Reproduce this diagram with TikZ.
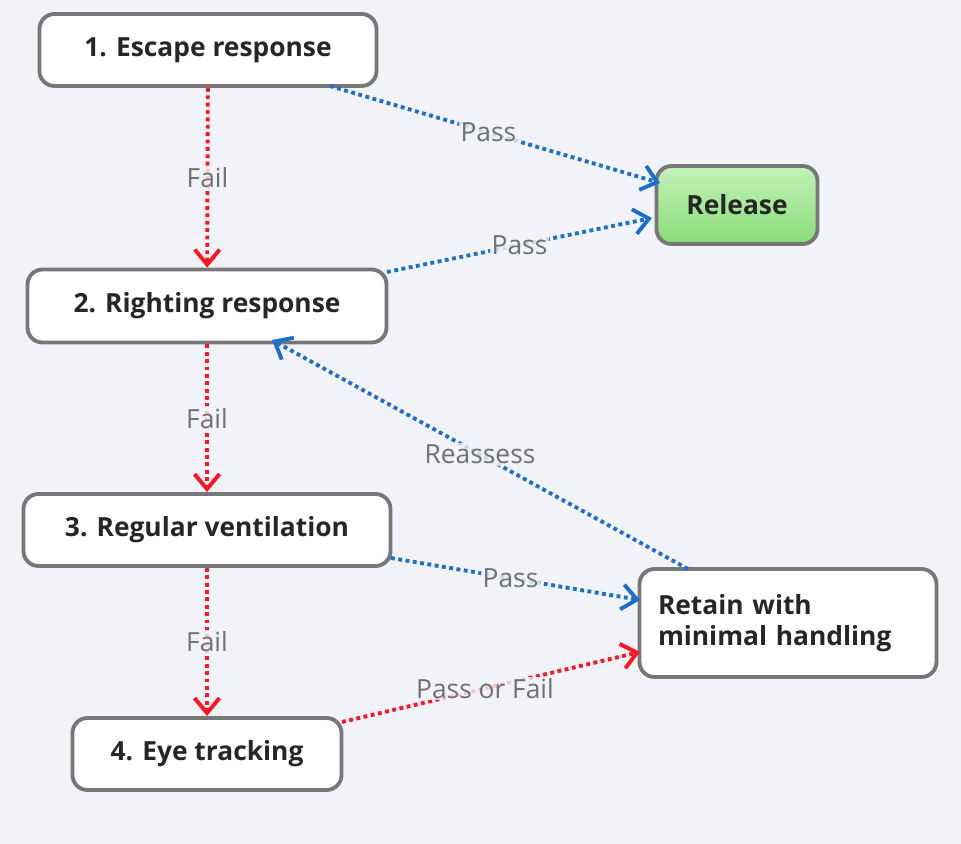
\documentclass[tikz,border=0pt]{standalone}
\usepackage{fontspec}
\setmainfont{Open Sans}
\usetikzlibrary{arrows.meta, positioning, shadings}
\definecolor{bgcol}{HTML}{F2F3F8}
\definecolor{boxline}{HTML}{777777}
\definecolor{failred}{HTML}{FF1424}
\definecolor{passblue}{HTML}{1C6FD0}
\definecolor{labelgray}{HTML}{707070}
\definecolor{greentop}{HTML}{C4F2B8}
\definecolor{greenbot}{HTML}{88DD78}

\begin{document}
\begin{tikzpicture}[
    x=0.02cm, y=-0.02cm,
    stage/.style={draw=boxline, line width=2.2pt, rounded corners=3mm, fill=white,
        font=\fontsize{15}{18}\selectfont\bfseries, text=black!85, inner sep=0pt},
    every edge/.style={draw, line width=2.2pt, dotted, -{Straight Barb[length=3mm, width=5mm]}},
    fail/.style={failred},
    pass/.style={passblue},
    edgelabel/.style={font=\fontsize{15}{18}\selectfont, text=labelgray, fill=bgcol, fill opacity=0.8, text opacity=1, inner sep=1pt},
]
\fill[bgcol] (0,0) rectangle (961,844);
\useasboundingbox (0,0) rectangle (961,844);

\node[stage, minimum width=337*0.02cm, minimum height=72*0.02cm] (escape) at (208,50) {1. Escape response};
\node[stage, top color=greentop, bottom color=greenbot, minimum width=161*0.02cm, minimum height=78*0.02cm] (release) at (737,205) {Release};
\node[stage, minimum width=359*0.02cm, minimum height=73*0.02cm] (righting) at (207,306) {2. Righting response};
\node[stage, minimum width=367*0.02cm, minimum height=72*0.02cm] (ventilation) at (207,530) {3. Regular ventilation};
\node[stage, minimum width=297*0.02cm, minimum height=108*0.02cm, align=left, text width=260*0.02cm] (retain) at (788,623) {Retain with\\minimal handling};
\node[stage, minimum width=269*0.02cm, minimum height=72*0.02cm] (eyes) at (207,754) {4. Eye tracking};

% end points of the slanted connectors
\coordinate (escape-out) at (330,86);
\coordinate (release-in1) at (660,183);
\coordinate (righting-out) at (387,272);
\coordinate (release-in2) at (652,218);
\coordinate (retain-out) at (688,569);
\coordinate (righting-in) at (272,340);
\coordinate (ventilation-out) at (391,558);
\coordinate (retain-in1) at (640,600);
\coordinate (eyes-out) at (342,722);
\coordinate (retain-in2) at (640,652);

\draw[fail] (escape) edge node[edgelabel, pos=0.5] {Fail} (righting);
\draw[fail] (righting) edge node[edgelabel, pos=0.5] {Fail} (ventilation);
\draw[fail] (ventilation) edge node[edgelabel, pos=0.5] {Fail} (eyes);
\draw[pass] (escape-out) edge node[edgelabel, pos=0.48] {Pass} (release-in1);
\draw[pass] (righting-out) edge node[edgelabel, pos=0.5] {Pass} (release-in2);
\draw[pass] (retain-out) edge node[edgelabel, pos=0.5] {Reassess} (righting-in);
\draw[pass] (ventilation-out) edge node[edgelabel, pos=0.48] {Pass} (retain-in1);
\draw[fail] (eyes-out) edge node[edgelabel, pos=0.48] {Pass or Fail} (retain-in2);
\end{tikzpicture}
\end{document}
